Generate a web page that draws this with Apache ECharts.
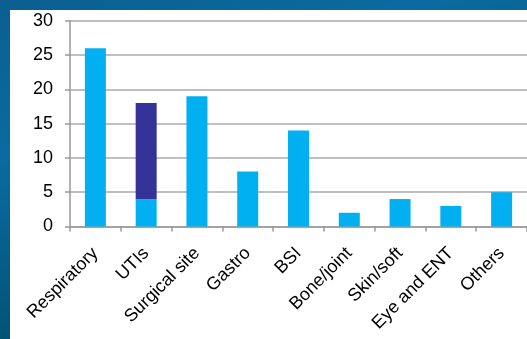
<!DOCTYPE html>
<html>
<head>
<meta charset="utf-8">
<script src="https://cdn.jsdelivr.net/npm/echarts@6/dist/echarts.min.js"></script>
<style>
html,body{margin:0;padding:0;width:527px;height:339px;overflow:hidden;}
body{background:linear-gradient(160deg,#0a5f90 0%,#0a6ba2 30%,#00506f 70%,#003f5a 100%);position:relative;}
#panel{position:absolute;left:10px;top:10px;width:517px;height:329px;background:#fff;}
#chart{position:absolute;left:0;top:0;width:527px;height:339px;}
</style>
</head>
<body>
<div id="panel"></div>
<div id="chart"></div>
<script>
const categories = ['Respiratory','UTIs','Surgical site','Gastro','BSI','Bone/joint','Skin/soft','Eye and ENT','Others'];
const baseValues = [26, 4, 19, 8, 14, 2, 4, 3, 5];
const stackedValues = ['-', 14, '-', '-', '-', '-', '-', '-', '-'];
const yTicks = [0, 5, 10, 15, 20, 25, 30];

const chart = echarts.init(document.getElementById('chart'));
chart.setOption({
  backgroundColor: 'transparent',
  animation: false,
  grid: { left: 70, top: 20.7, width: 463.5, height: 205.8, containLabel: false },
  xAxis: {
    type: 'category',
    data: categories,
    axisLine: { lineStyle: { color: '#999', width: 1.5 } },
    axisTick: { show: true, length: 5, lineStyle: { color: '#999', width: 1.5 } },
    axisLabel: { rotate: 45, margin: 24, color: '#000', fontSize: 18, fontFamily: 'Liberation Sans, Arial, sans-serif', interval: 0 }
  },
  yAxis: {
    type: 'value',
    min: yTicks[0],
    max: yTicks[yTicks.length - 1],
    interval: 5,
    axisLine: { show: true, lineStyle: { color: '#999', width: 1.5 } },
    axisTick: { show: true, length: 5, lineStyle: { color: '#999', width: 1.5 } },
    axisLabel: { margin: 17, color: '#000', fontSize: 18, fontFamily: 'Liberation Sans, Arial, sans-serif' },
    splitLine: { lineStyle: { color: '#aaaaaa', width: 1.5 } }
  },
  series: [
    { type: 'bar', stack: 'a', data: baseValues, barWidth: 21, itemStyle: { color: '#00B0F0' } },
    { type: 'bar', stack: 'a', data: stackedValues, barWidth: 21, itemStyle: { color: '#333399' } }
  ]
});
</script>
</body>
</html>
